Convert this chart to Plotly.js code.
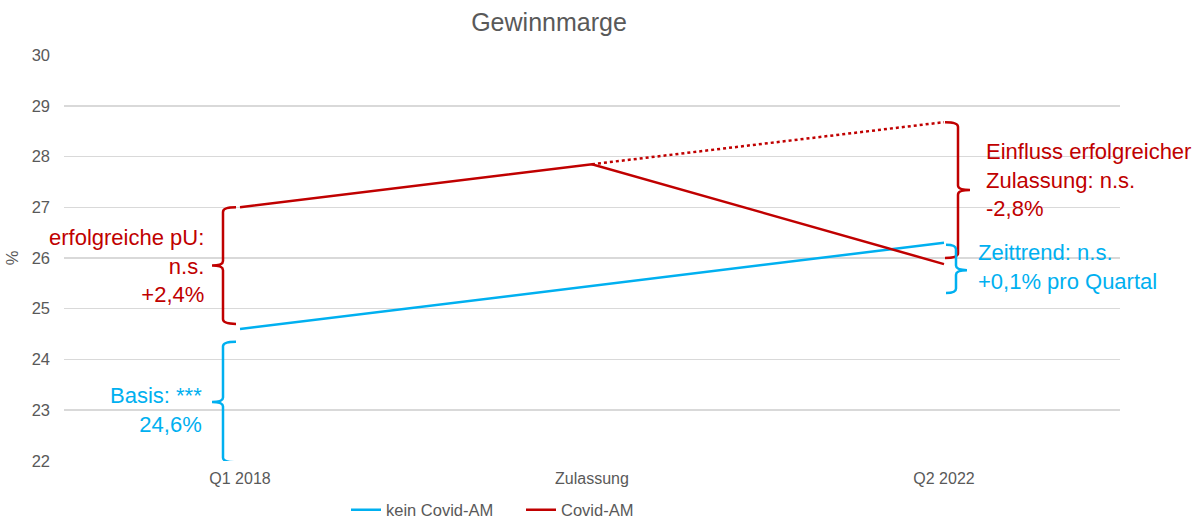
<!DOCTYPE html>
<html><head><meta charset="utf-8">
<script src="https://cdn.plot.ly/plotly-3.0.1.min.js"></script>
<style>body{margin:0;background:#fff}#c{width:1200px;height:518px}</style>
</head><body><div id="c"></div>
<script>
const categories = ["Q1 2018", "Zulassung", "Q2 2022"];
const keinCovid = [24.6, 25.45, 26.3];
const covid = [27.0, 27.85, 25.88];
const covidKontrafaktisch = [null, 27.85, 28.68];
const yTicks = [22, 23, 24, 25, 26, 27, 28, 29, 30];

const BLUE = "#00B0F0", RED = "#C00000", GREY = "#595959";
const L = 64, R = 1120, T = 55, B = 461;
const px = v => (v - L) / (R - L);           // pixel x -> paper

function brace(xv, xtip, xmid, ytop, ybot, ymid, color) {
  const a = px(xv), t = px(xtip), m = px(xmid);
  const d = 0.09; // curve size (data units)
  const path = `M ${t},${ytop} Q ${a},${ytop} ${a},${ytop - d} L ${a},${ymid + d} Q ${a},${ymid} ${m},${ymid} Q ${a},${ymid} ${a},${ymid - d} L ${a},${ybot + d} Q ${a},${ybot} ${t},${ybot}`;
  return {type: "path", xref: "paper", yref: "y", path: path, line: {color: color, width: 2.5}};
}

const traces = [
  {x: categories, y: keinCovid, name: "kein Covid-AM", type: "scatter", mode: "lines",
   line: {color: BLUE, width: 2.5}},
  {x: categories, y: covid, name: "Covid-AM", type: "scatter", mode: "lines",
   line: {color: RED, width: 2.5}},
  {x: categories, y: covidKontrafaktisch, name: "Covid-AM (ohne Zulassungseffekt)", type: "scatter", mode: "lines",
   line: {color: RED, width: 2.5, dash: "dot"}, showlegend: false, connectgaps: false}
];

const shapes = [
  brace(223, 236, 212, covid[0], keinCovid[0] + 0.1, (covid[0] + keinCovid[0] + 0.1) / 2, RED),
  brace(223, 236, 212, keinCovid[0] - 0.25, 21.97, 23.16, BLUE),
  brace(958, 945, 970, covidKontrafaktisch[2], 26.0, 27.34, RED),
  brace(956, 946, 967, keinCovid[2] - 0.04, 25.31, 25.76, BLUE)
];

const af = c => ({family: "Liberation Sans, Arial, sans-serif", size: 22, color: c});
const annotations = [
  {xref: "paper", yref: "y", x: px(206), y: 25.84, xanchor: "right", yanchor: "middle", align: "right",
   showarrow: false, text: "erfolgreiche pU:<br>n.s.<br>+2,4%", font: af(RED)},
  {xref: "paper", yref: "y", x: px(204), y: 23.0, xanchor: "right", yanchor: "middle", align: "right",
   showarrow: false, text: "Basis: ***<br>24,6%", font: af(BLUE)},
  {xref: "paper", yref: "y", x: px(984), y: 27.54, xanchor: "left", yanchor: "middle", align: "left",
   showarrow: false, text: "Einfluss erfolgreicher<br>Zulassung: n.s.<br>-2,8%", font: af(RED)},
  {xref: "paper", yref: "y", x: px(976), y: 25.82, xanchor: "left", yanchor: "middle", align: "left",
   showarrow: false, text: "Zeittrend: n.s.<br>+0,1% pro Quartal", font: af(BLUE)}
];

const layout = {
  width: 1200, height: 518,
  margin: {l: L, r: 1200 - R, t: T, b: 518 - B, autoexpand: false},
  paper_bgcolor: "#fff", plot_bgcolor: "#fff",
  font: {family: "Liberation Sans, Arial, sans-serif", size: 16, color: GREY},
  title: {text: "Gewinnmarge", x: 549 / 1200, xref: "container", xanchor: "center",
          y: 1 - 22 / 518, yref: "container", yanchor: "middle",
          font: {size: 25, color: GREY}, automargin: false},
  xaxis: {type: "category", range: [-0.5, 2.5], showgrid: false, zeroline: false, showline: false,
          ticks: "", ticklabelstandoff: 6, tickfont: {size: 16, color: GREY}, automargin: false},
  yaxis: {range: [21.995, 30.005], tickvals: yTicks, ticktext: yTicks.map(String), showgrid: true,
          gridcolor: "#d9d9d9", gridwidth: 1.3, zeroline: false, showline: false, ticks: "",
          ticklabelstandoff: 13, tickfont: {size: 16.5, color: GREY}, automargin: false,
          title: {text: "%", font: {size: 16.5, color: GREY}, standoff: 8}},
  showlegend: true,
  legend: {orientation: "h", x: px(521), xanchor: "center", y: (B - 510) / (B - T), yanchor: "middle",
           font: {size: 16.5, color: GREY}, itemwidth: 30, tracegroupgap: 0, entrywidth: 130},
  shapes: shapes, annotations: annotations
};

Plotly.newPlot("c", traces, layout, {displayModeBar: false, staticPlot: true});
</script></body></html>
